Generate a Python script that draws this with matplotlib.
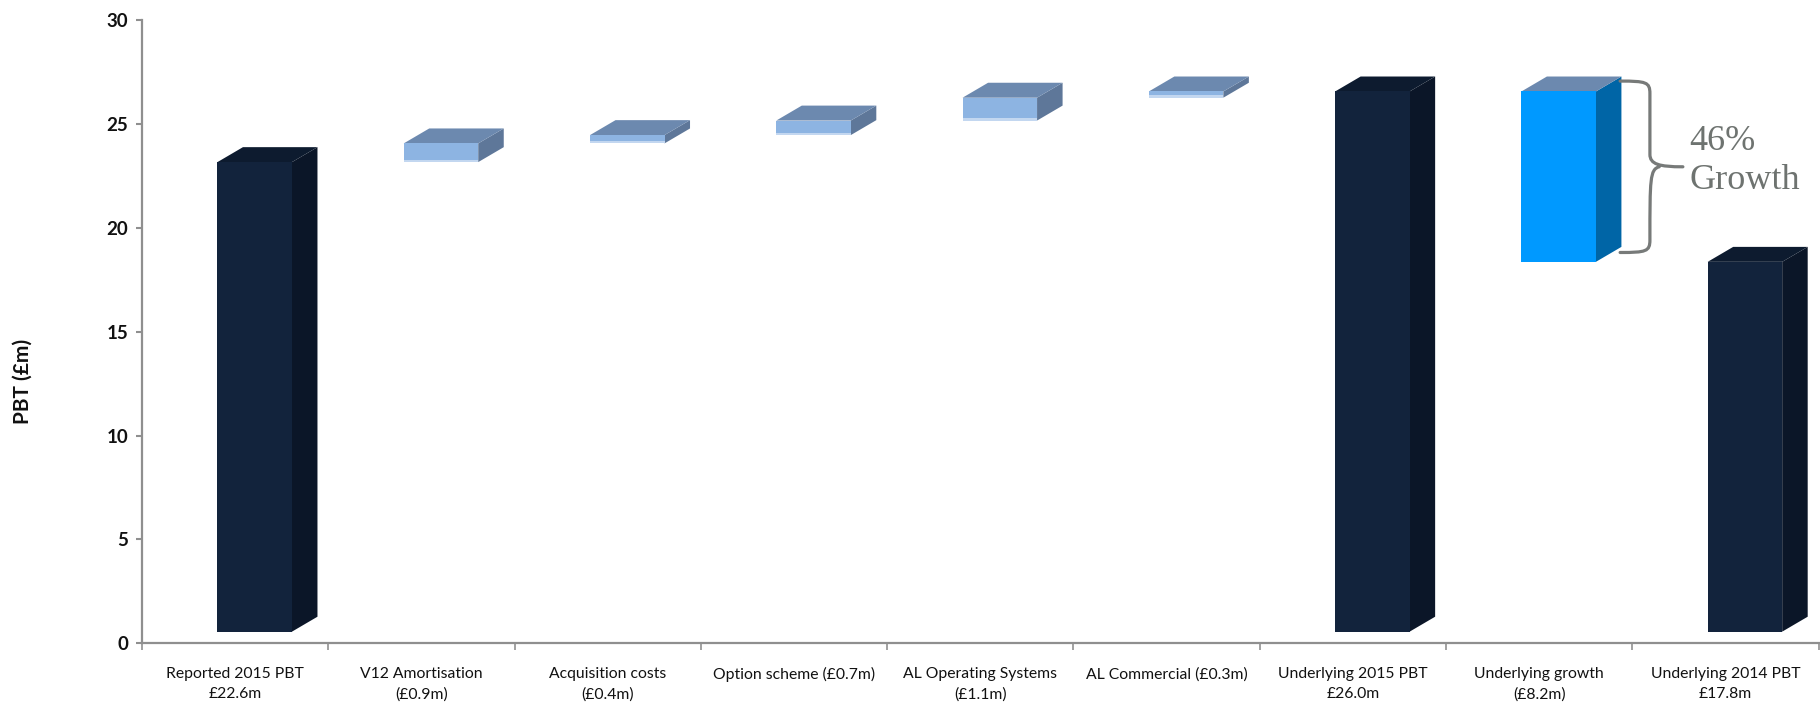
import matplotlib
matplotlib.use("Agg")
import matplotlib.pyplot as plt
from matplotlib.patches import Polygon, Rectangle
from matplotlib.path import Path
from matplotlib.patches import PathPatch

# ---- data -------------------------------------------------------------
categories = [
    "Reported 2015 PBT\n£22.6m",
    "V12 Amortisation\n(£0.9m)",
    "Acquisition costs\n(£0.4m)",
    "Option scheme (£0.7m)",
    "AL Operating Systems\n(£1.1m)",
    "AL Commercial (£0.3m)",
    "Underlying 2015 PBT\n£26.0m",
    "Underlying growth\n(£8.2m)",
    "Underlying 2014 PBT\n£17.8m",
]
amounts = [22.6, 0.9, 0.4, 0.7, 1.1, 0.3, 26.0, 8.2, 17.8]
kinds = ["total", "step", "step", "step", "step", "step", "total", "growth", "total"]
y_ticks = [0, 5, 10, 15, 20, 25, 30]
growth_label = ["46%", "Growth"]

# ---- styling ------------------------------------------------------------
LABEL_FONT = ["Lato", "DejaVu Sans"]
face_colors = {
    "total": ("#12233c", "#0d1b2f", "#0b1628"),   # front, top, side
    "step": ("#8db4e2", "#6c89af", "#5e7799"),
    "growth": ("#0099ff", "#6c89af", "#0065a6"),
}
FRONT_OFF = -0.095   # front face left edge relative to category centre
FRONT_W = 0.40       # front face width (category units)
DX = 0.137           # depth, horizontal (category units)
DY = 0.72            # depth, vertical (data units)
LIFT = 0.56          # front face sits slightly above the floor

fig = plt.figure(figsize=(18.2, 7.07), dpi=100)
ax = fig.add_axes([142 / 1820, 63.7 / 707, (1818.5 - 142) / 1820, 623.3 / 707])
ax.set_xlim(-0.5, len(categories) - 0.5)
ax.set_ylim(0, 30)

# ---- bars (bottoms derived from the running total) ---------------------
running = 0.0
for i, (amt, kind) in enumerate(zip(amounts, kinds)):
    if kind == "total":
        bottom, top = 0.0, amt
        running = amt
    elif kind == "step":
        bottom, top = running, running + amt
        running = top
    else:  # growth bridge between the two underlying totals
        top = amounts[i - 1]
        bottom = top - amt
    front, topc, side = face_colors[kind]
    x0 = i + FRONT_OFF
    x1 = x0 + FRONT_W
    y0 = bottom + LIFT
    y1 = top + LIFT
    ax.add_patch(Polygon([(x1, y0), (x1 + DX, y0 + DY), (x1 + DX, y1 + DY), (x1, y1)],
                         closed=True, facecolor=side, edgecolor="none", zorder=3))
    ax.add_patch(Polygon([(x0, y1), (x1, y1), (x1 + DX, y1 + DY), (x0 + DX, y1 + DY)],
                         closed=True, facecolor=topc, edgecolor="none", zorder=3))
    ax.add_patch(Rectangle((x0, y0), FRONT_W, y1 - y0,
                           facecolor=front, edgecolor="none", zorder=4))
    if kind == "step":
        ax.add_patch(Rectangle((x0, y0), FRONT_W, 0.12,
                               facecolor="#c3d7f0", edgecolor="none", zorder=5))

# ---- brace next to the growth bar ---------------------------------------
gi = kinds.index("growth")
g_top = amounts[gi - 1] + LIFT + 0.5
g_bot = amounts[gi - 1] - amounts[gi] + LIFT + 0.45
g_mid = (g_top + g_bot) / 2
xe = gi + 0.435   # open ends
xv = gi + 0.595   # vertical stroke
xt = gi + 0.772   # tip
r = 0.6
verts = [
    (xe, g_top), (xv - 0.02, g_top), (xv, g_top - 0.05), (xv, g_top - r),
    (xv, g_mid + r), (xv, g_mid + 0.12), (xv + 0.05, g_mid), (xt, g_mid),
    (xv + 0.05, g_mid), (xv, g_mid - 0.12), (xv, g_mid - r),
    (xv, g_bot + r), (xv, g_bot + 0.05), (xv - 0.02, g_bot), (xe, g_bot),
]
codes = [Path.MOVETO, Path.CURVE4, Path.CURVE4, Path.CURVE4,
         Path.LINETO, Path.CURVE4, Path.CURVE4, Path.CURVE4,
         Path.MOVETO, Path.CURVE4, Path.CURVE4,
         Path.LINETO, Path.CURVE4, Path.CURVE4, Path.CURVE4]
ax.add_patch(PathPatch(Path(verts, codes), facecolor="none", edgecolor="#777a79",
                       linewidth=2.3, capstyle="round", zorder=5))
ax.text(gi + 0.808, 23.74, growth_label[0], family=["Liberation Serif", "DejaVu Serif"],
        fontsize=26, color="#6e7370", ha="left", va="baseline")
ax.text(gi + 0.808, 21.85, growth_label[1], family=["Liberation Serif", "DejaVu Serif"],
        fontsize=26, color="#6e7370", ha="left", va="baseline")

# ---- axes ---------------------------------------------------------------
for s in ("top", "right"):
    ax.spines[s].set_visible(False)
for s in ("left", "bottom"):
    ax.spines[s].set_color("#8f8f8f")
    ax.spines[s].set_linewidth(1.6)

ax.set_yticks(y_ticks)
ax.set_yticklabels([str(v) for v in y_ticks])
ax.tick_params(axis="y", length=4, width=1.5, color="#8f8f8f", pad=6)
for lab in ax.get_yticklabels():
    lab.set_family(LABEL_FONT)
    lab.set_fontweight("bold")
    lab.set_fontsize(13.5)
    lab.set_color("#111111")

ax.set_xticks(range(len(categories)))
ax.set_xticklabels(categories)
ax.tick_params(axis="x", which="major", length=0, pad=17)
ax.set_xticks([i - 0.5 for i in range(len(categories) + 1)], minor=True)
ax.tick_params(axis="x", which="minor", length=5, width=1.3, color="#9a9a9a")
for lab in ax.get_xticklabels():
    lab.set_family(LABEL_FONT)
    lab.set_fontsize(11.3)
    lab.set_color("#111111")
    lab.set_linespacing(1.55)

fig.text(23 / 1820, 1 - 381 / 707, "PBT (£m)", rotation=90, ha="center", va="center",
         family=LABEL_FONT, fontweight="bold", fontsize=15,
         color="#111111")

fig.savefig("out.png", dpi=100)
